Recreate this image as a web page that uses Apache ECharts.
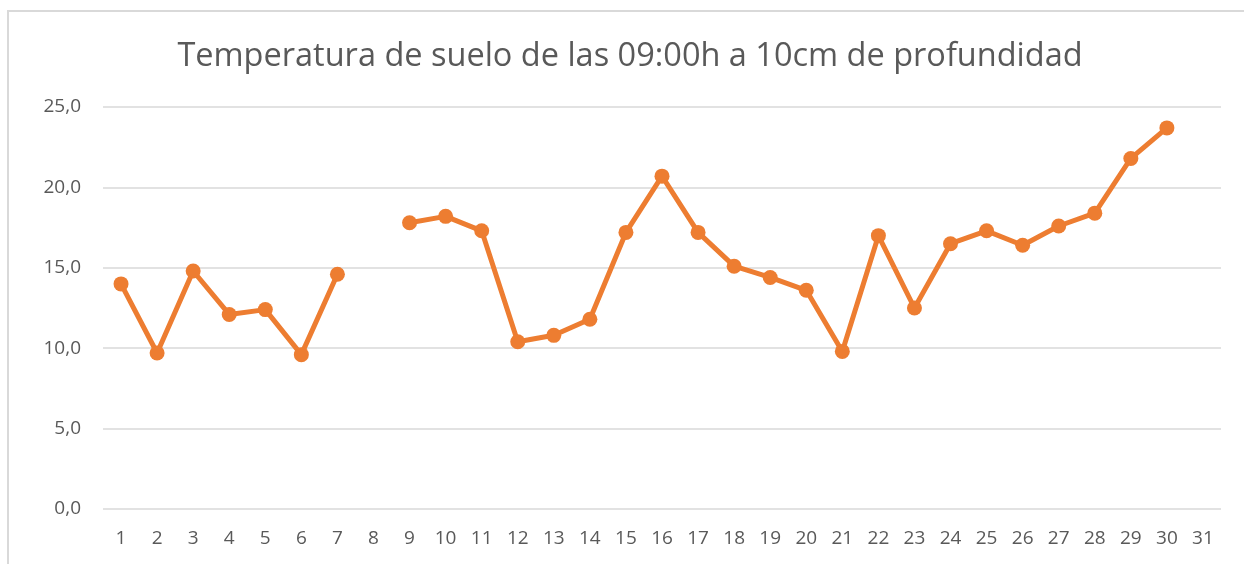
<!DOCTYPE html>
<html>
<head>
  <meta charset="utf-8" />
  <title>Temperatura de suelo</title>
  <script src="https://cdn.jsdelivr.net/npm/echarts@6/dist/echarts.min.js"></script>
  <style>
    html, body { margin: 0; padding: 0; background: #fff; }
    #frame {
      position: absolute; left: 7px; top: 10px; width: 1250px; height: 570px;
      border: 2px solid #d9d9d9; box-sizing: border-box;
    }
    #main { position: absolute; left: 0; top: 0; width: 1244px; height: 564px; }
  </style>
</head>
<body>
<div id="frame"></div>
<div id="main"></div>
<script>
  // dias del mes
  var dias = [];
  for (var d = 1; d <= 31; d++) dias.push(String(d));

  // temperatura a las 09:00h, 10cm (dia 8 y 31 sin dato)
  var temperatura = [14.0, 9.7, 14.8, 12.1, 12.4, 9.6, 14.6, null, 17.8, 18.2,
                     17.3, 10.4, 10.8, 11.8, 17.2, 20.7, 17.2, 15.1, 14.4, 13.6,
                     9.8, 17.0, 12.5, 16.5, 17.3, 16.4, 17.6, 18.4, 21.8, 23.7, null];

  var yTicks = { min: 0, max: 25, interval: 5 };

  var chart = echarts.init(document.getElementById('main'));
  var option = {
    animation: false,
    title: {
      text: 'Temperatura de suelo de las 09:00h a 10cm de profundidad',
      left: 625, top: 35, textAlign: 'center',
      textStyle: { fontFamily: 'Open Sans', fontSize: 32.5, fontWeight: 'normal', color: '#595959' }
    },
    grid: { left: 103, right: 23, top: 107, bottom: 55 },
    xAxis: {
      type: 'category',
      data: dias,
      boundaryGap: true,
      axisLine: { show: false },
      axisTick: { show: false },
      axisLabel: { color: '#595959', fontFamily: 'Open Sans', fontSize: 19, margin: 20, interval: 0 }
    },
    yAxis: {
      type: 'value',
      min: yTicks.min, max: yTicks.max, interval: yTicks.interval,
      axisLine: { show: false },
      axisTick: { show: false },
      splitLine: { lineStyle: { color: '#d9d9d9', width: 1.5 } },
      axisLabel: {
        color: '#595959', fontFamily: 'Open Sans', fontSize: 19, margin: 22,
        formatter: function (v) { return v.toFixed(1).replace('.', ','); }
      }
    },
    series: [{
      type: 'line',
      data: temperatura,
      connectNulls: false,
      symbol: 'circle',
      symbolSize: 15,
      itemStyle: { color: '#ED7D31' },
      lineStyle: { color: '#ED7D31', width: 5 }
    }]
  };
  chart.setOption(option);
</script>
</body>
</html>
